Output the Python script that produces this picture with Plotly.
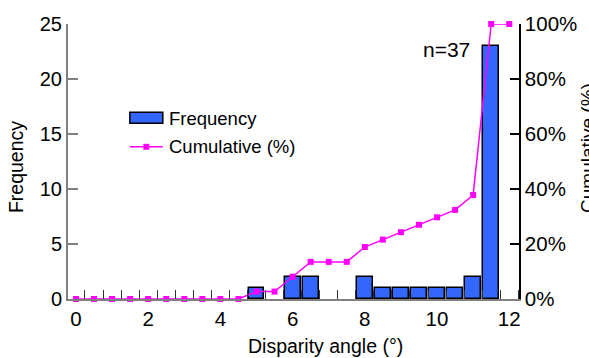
import plotly.graph_objects as go

# Data
bin_centers = [5, 6, 6.5, 8, 8.5, 9, 9.5, 10, 10.5, 11, 11.5]
frequency = [1, 2, 2, 2, 1, 1, 1, 1, 1, 2, 23]
cum_x = [0, 0.5, 1, 1.5, 2, 2.5, 3, 3.5, 4, 4.5, 5, 5.5, 6, 6.5, 7, 7.5,
         8, 8.5, 9, 9.5, 10, 10.5, 11, 11.5, 12]
cumulative = [0, 0, 0, 0, 0, 0, 0, 0, 0, 0, 2.7, 2.7, 8.1, 13.5, 13.5, 13.5,
              18.9, 21.6, 24.3, 27.0, 29.7, 32.4, 37.8, 100, 100]
x_ticks = [0, 2, 4, 6, 8, 10, 12]
y_ticks = [0, 5, 10, 15, 20, 25]
y2_ticks = [0, 20, 40, 60, 80, 100]
y2_labels = ["0%", "20%", "40%", "60%", "80%", "100%"]

FONT = "Liberation Sans, Arial, sans-serif"
BLUE = "#3366ff"
MAG = "#ff00ff"

fig = go.Figure()
fig.add_trace(go.Bar(
    x=bin_centers, y=frequency, width=0.44, name="Frequency",
    marker=dict(color=BLUE, line=dict(color="black", width=1.5)),
    showlegend=False, yaxis="y"))
fig.add_trace(go.Scatter(
    x=cum_x, y=cumulative, mode="lines+markers", name="Cumulative (%)",
    line=dict(color=MAG, width=1.5),
    marker=dict(symbol="square", size=6, color=MAG),
    showlegend=False, yaxis="y2", cliponaxis=False))

# manual legend (paper coords derived from plot geometry)
L, R, T, B = 68, 69, 22, 59
W, H = 589, 358
pw, ph = W - L - R, H - T - B
def px(x):
    return (x - L) / pw
def py(y):
    return (H - B - y) / ph

fig.add_shape(type="rect", xref="paper", yref="paper",
              x0=px(130), x1=px(163), y0=py(122), y1=py(111),
              fillcolor=BLUE, line=dict(color="black", width=1.5))
fig.add_shape(type="line", xref="paper", yref="paper",
              x0=px(130), x1=px(163), y0=py(145.7), y1=py(145.7),
              line=dict(color=MAG, width=1.5))
fig.add_shape(type="rect", xref="paper", yref="paper",
              x0=px(143.5), x1=px(149.5), y0=py(148.7), y1=py(142.7),
              fillcolor=MAG, line=dict(color=MAG, width=0))

ann = [
    dict(text="Frequency", x=px(167), y=py(117), xanchor="left", yanchor="middle", size=18.5),
    dict(text="Cumulative (%)", x=px(167), y=py(145), xanchor="left", yanchor="middle", size=18.5),
    dict(text="n=37", x=px(473), y=py(48), xanchor="right", yanchor="middle", size=21),
    dict(text="Disparity angle (°)", x=px(326.5), y=py(346), xanchor="center", yanchor="middle", size=19.5),
]
for a in ann:
    fig.add_annotation(text=a["text"], x=a["x"], y=a["y"], xref="paper", yref="paper",
                       xanchor=a["xanchor"], yanchor=a["yanchor"], showarrow=False,
                       font=dict(family=FONT, size=a["size"], color="black"))
fig.add_annotation(text="Frequency", x=px(16), y=py(166), xref="paper", yref="paper",
                   textangle=-90, xanchor="center", yanchor="middle", showarrow=False,
                   font=dict(family=FONT, size=19.5, color="black"))
fig.add_annotation(text="Cumulative (%)", x=px(588), y=py(147), xref="paper", yref="paper",
                   textangle=-90, xanchor="center", yanchor="middle", showarrow=False,
                   font=dict(family=FONT, size=19, color="black"))

fig.update_layout(
    width=W, height=H,
    margin=dict(l=L, r=R, t=T, b=B, pad=0),
    plot_bgcolor="white", paper_bgcolor="white",
    font=dict(family=FONT, size=20, color="black"),
    bargap=0,
    xaxis=dict(range=[-0.22, 12.27], tickvals=x_ticks, ticks="", showgrid=False,
               zeroline=False, showline=True, linecolor="#808080", linewidth=2,
               tickfont=dict(size=20.5),
               minor=dict(ticks="inside", tick0=0.25, dtick=0.5, ticklen=9,
                          tickcolor="#333333", tickwidth=1, showgrid=False)),
    yaxis=dict(range=[0, 25], tickvals=y_ticks, ticks="inside", ticklen=10,
               tickcolor="#808080", tickwidth=2, showgrid=False, zeroline=False,
               showline=True, linecolor="#808080", linewidth=2),
    yaxis2=dict(range=[0, 100], tickvals=y2_ticks, ticktext=y2_labels, overlaying="y",
                side="right", ticks="inside", ticklen=9, tickcolor="black",
                tickwidth=1.5, showgrid=False, zeroline=False, showline=True,
                linecolor="black", linewidth=1.5, tickfont=dict(size=20.5)),
)

fig.write_html("out.html")
